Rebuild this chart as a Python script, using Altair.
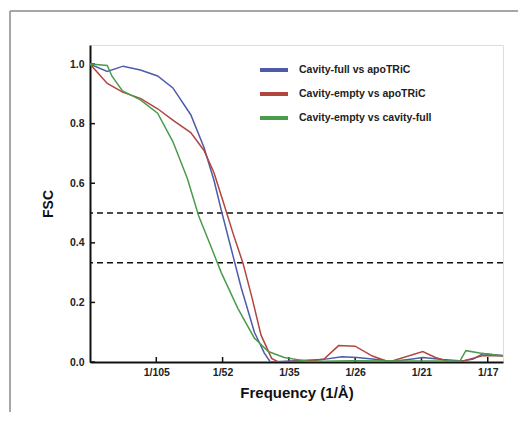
import altair as alt
import pandas as pd

# Series names
series = ["Cavity-full vs apoTRiC", "Cavity-empty vs apoTRiC", "Cavity-empty vs cavity-full"]
colors = ["#4d5ba8", "#b0463e", "#4a9c4c"]

# x positions in tick-index units (tick k sits at k)
blue_x = [0, 0.26, 0.50, 0.76, 1.02, 1.25, 1.52, 1.72, 1.87, 1.98, 2.13, 2.28, 2.48, 2.63, 2.72,
          3.19, 3.50, 3.80, 4.03, 4.33, 4.56, 4.86, 5.02, 5.32, 5.62, 5.78, 5.93, 6.23]
blue_y = [1.0, 0.975, 0.993, 0.98, 0.96, 0.92, 0.83, 0.72, 0.61, 0.51, 0.38, 0.25, 0.10, 0.03, 0.0,
          0.005, 0.008, 0.018, 0.015, 0.008, 0.002, 0.01, 0.015, 0.008, 0.003, 0.01, 0.028, 0.022]

red_x = [0, 0.26, 0.50, 0.76, 1.02, 1.26, 1.52, 1.72, 1.87, 2.02, 2.16, 2.31, 2.45, 2.58, 2.74, 2.84,
         3.39, 3.53, 3.75, 4.00, 4.26, 4.51, 5.02, 5.21, 5.43, 5.62, 5.93, 6.23]
red_y = [1.0, 0.935, 0.905, 0.885, 0.85, 0.81, 0.77, 0.71, 0.635, 0.53, 0.43, 0.33, 0.21, 0.09, 0.012, 0.0,
         0.005, 0.01, 0.055, 0.053, 0.02, 0.0, 0.035, 0.015, 0.0, 0.003, 0.022, 0.02]

green_x = [0, 0.26, 0.33, 0.49, 0.76, 1.02, 1.25, 1.47, 1.64, 1.82, 1.98, 2.23, 2.48, 2.69, 2.93,
           3.30, 3.95, 4.71, 5.58, 5.67, 5.88, 6.23]
green_y = [1.0, 0.995, 0.96, 0.91, 0.88, 0.835, 0.74, 0.615, 0.49, 0.39, 0.30, 0.18, 0.08, 0.035, 0.015,
           0.002, 0.004, 0.003, 0.003, 0.038, 0.03, 0.02]

tick_pos = [1, 2, 3, 4, 5, 6]
tick_labels = ["1/105", "1/52", "1/35", "1/26", "1/21", "1/17"]
y_ticks = [0.0, 0.2, 0.4, 0.6, 0.8, 1.0]
thresholds = [0.5, 0.333]

rows = []
for name, xs, ys in zip(series, [blue_x, red_x, green_x], [blue_y, red_y, green_y]):
    for i, (a, b) in enumerate(zip(xs, ys)):
        rows.append({"series": name, "u": a, "fsc": b, "order": i})
df = pd.DataFrame(rows)

label_expr = " : ".join(
    [f"datum.value == {p} ? '{l}'" for p, l in zip(tick_pos, tick_labels)]
) + " : ''"

XDOM = [0, 6.23]
YDOM = [0, 1.064]

xscale = alt.Scale(domain=XDOM, nice=False, zero=False)
yscale = alt.Scale(domain=YDOM, nice=False)

lines = alt.Chart(df).mark_line(strokeWidth=1.5, clip=True).encode(
    x=alt.X("u:Q", scale=xscale,
            axis=alt.Axis(values=tick_pos, labelExpr=label_expr, title="Frequency (1/Å)",
                          grid=False, ticks=False, domainWidth=2, domainColor="#111",
                          labelFont="Liberation Sans", labelFontWeight="bold", labelFontSize=10.5,
                          labelColor="#222", labelPadding=5,
                          titleFont="Liberation Sans", titleFontWeight="bold", titleFontSize=15,
                          titleColor="#111", titlePadding=8)),
    y=alt.Y("fsc:Q", scale=yscale,
            axis=alt.Axis(values=y_ticks, format=".1f", title="FSC", grid=False, ticks=False,
                          domainWidth=2, domainColor="#111",
                          labelFont="Liberation Sans", labelFontWeight="bold", labelFontSize=10.5,
                          labelColor="#222", labelPadding=6,
                          titleFont="Liberation Sans", titleFontWeight="bold", titleFontSize=14,
                          titleColor="#111", titlePadding=14)),
    color=alt.Color("series:N", scale=alt.Scale(domain=series, range=colors),
                    legend=alt.Legend(title=None, orient="none", legendX=168, legendY=9,
                                      symbolType="stroke", symbolStrokeWidth=4, symbolSize=784,
                                      labelFont="Liberation Sans", labelFontWeight="bold",
                                      labelFontSize=10.5, labelColor="#222", labelOffset=9,
                                      rowPadding=-3, labelLimit=300)),
    order="order:Q",
)

thr = alt.Chart(pd.DataFrame({"t": thresholds})).mark_rule(
    color="#111", strokeWidth=1.6, strokeDash=[6, 4]
).encode(y=alt.Y("t:Q", scale=yscale))

xt = alt.Chart(pd.DataFrame({"p": tick_pos})).mark_rule(color="#111", strokeWidth=1.5).encode(
    x=alt.X("p:Q", scale=xscale),
    y=alt.value(317),
    y2=alt.value(312),
)

yt = alt.Chart(pd.DataFrame({"v": y_ticks})).mark_rule(color="#111", strokeWidth=1.5).encode(
    y=alt.Y("v:Q", scale=yscale),
    x=alt.value(0),
    x2=alt.value(5),
)

frame_v = alt.Chart(pd.DataFrame({"k": [0]})).mark_rule(color="#8a8a8a", strokeWidth=1.5).encode(
    x=alt.value(-80), y=alt.value(-34), y2=alt.value(370)
)
frame_h = alt.Chart(pd.DataFrame({"k": [0]})).mark_rule(color="#8a8a8a", strokeWidth=1.5).encode(
    x=alt.value(-80), x2=alt.value(428), y=alt.value(-34)
)

chart = alt.layer(frame_v, frame_h, thr, xt, yt, lines).properties(
    width=413, height=317,
    autosize=alt.AutoSizeParams(type="none"),
    padding={"left": 82, "top": 37, "right": 15, "bottom": 50},
).configure_view(strokeWidth=0, stroke="transparent").configure(background="white")

chart.save("out.html", embed_options={"renderer": "svg", "actions": False})
